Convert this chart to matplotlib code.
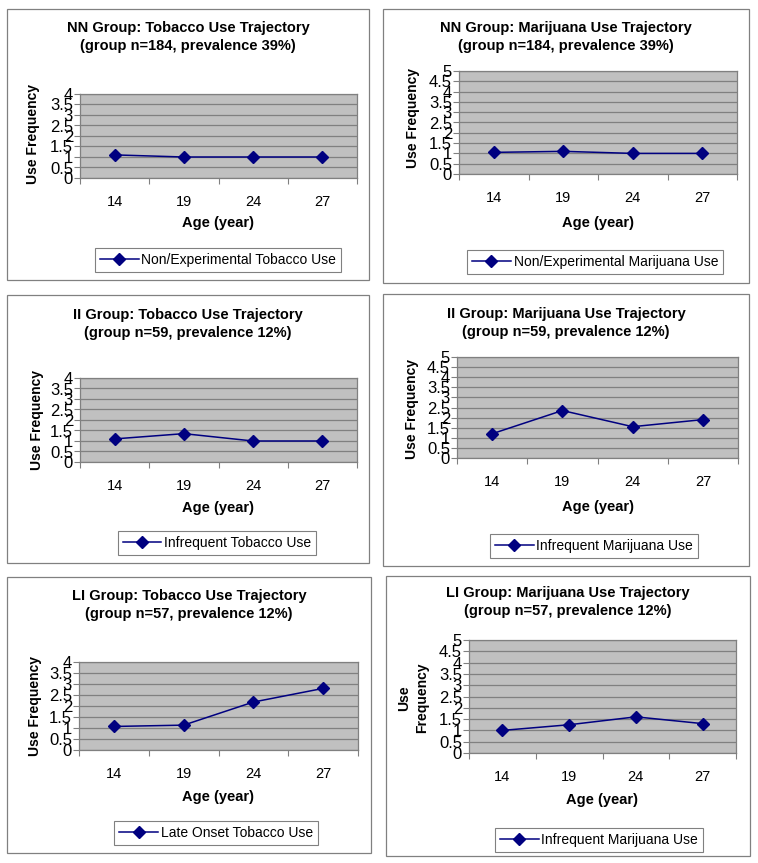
import matplotlib
matplotlib.use('Agg')
import matplotlib.pyplot as plt
from matplotlib.patches import Rectangle

plt.rcParams['font.family'] = ['Liberation Sans', 'DejaVu Sans']

ages = ['14', '19', '24', '27']

nn_tobacco = [1.1, 1.0, 1.0, 1.0]
nn_marijuana = [1.05, 1.1, 1.0, 1.0]
ii_tobacco = [1.1, 1.35, 1.0, 1.0]
ii_marijuana = [1.2, 2.35, 1.55, 1.9]
li_tobacco = [1.07, 1.13, 2.18, 2.8]
li_marijuana = [1.0, 1.25, 1.6, 1.3]

titles = ['NN Group: Tobacco Use Trajectory\n(group n=184, prevalence 39%)',
          'NN Group: Marijuana Use Trajectory\n(group n=184, prevalence 39%)',
          'II Group: Tobacco Use Trajectory\n(group n=59, prevalence 12%)',
          'II Group: Marijuana Use Trajectory\n(group n=59, prevalence 12%)',
          'LI Group: Tobacco Use Trajectory\n(group n=57, prevalence 12%)',
          'LI Group: Marijuana Use Trajectory\n(group n=57, prevalence 12%)']
legends = ['Non/Experimental Tobacco Use', 'Non/Experimental Marijuana Use',
           'Infrequent Tobacco Use', 'Infrequent Marijuana Use',
           'Late Onset Tobacco Use', 'Infrequent Marijuana Use']
series = [nn_tobacco, nn_marijuana, ii_tobacco, ii_marijuana, li_tobacco, li_marijuana]
ymaxes = [4, 5, 4, 5, 4, 5]
ylabels = ['Use Frequency'] * 5 + ['Use\nFrequency']

W, H = 758, 863
fig = plt.figure(figsize=(W / 100, H / 100), dpi=100)

def fx(x):
    return x / W

def fy(y):
    return 1 - y / H

# pixel layout: box, plot area, title y, xlabel y, ylabel x/y, legend center
layout = [
    dict(box=(7, 9, 369, 280), ax=(80, 94, 357, 178), title=37, xl=223, yl=(33, 134), leg=(218, 260)),
    dict(box=(383, 9, 749, 283), ax=(459, 71, 737, 174), title=37, xl=223, yl=(413, 118), leg=(595, 262)),
    dict(box=(7, 295, 369, 563), ax=(80, 378, 357, 462), title=324, xl=508, yl=(37, 420), leg=(217, 543)),
    dict(box=(383, 294, 749, 566), ax=(457, 357, 738, 458), title=323, xl=507, yl=(412, 409), leg=(594, 546)),
    dict(box=(7, 577, 371, 853), ax=(79, 662, 358, 750), title=605, xl=797, yl=(35, 706), leg=(216, 833)),
    dict(box=(386, 576, 750, 856), ax=(469, 640, 736, 753), title=602, xl=800, yl=(413, 698), leg=(599, 840)),
]

for i, L in enumerate(layout):
    bx0, by0, bx1, by1 = L['box']
    fig.patches.append(Rectangle((fx(bx0), fy(by1)), fx(bx1 - bx0), (by1 - by0) / H,
                                 transform=fig.transFigure, fill=False,
                                 edgecolor='#808080', linewidth=0.9))
    x0, y0, x1, y1 = L['ax']
    ax = fig.add_axes([fx(x0), fy(y1), fx(x1 - x0), (y1 - y0) / H])
    ax.set_facecolor('#c0c0c0')
    xs = list(range(len(ages)))
    ax.plot(xs, series[i], color='#000080', marker='D', markersize=6, linewidth=1.1,
            label=legends[i])
    ax.set_xlim(-0.5, len(ages) - 0.5)
    ax.set_ylim(0, ymaxes[i])
    yt = [k * 0.5 for k in range(int(ymaxes[i] * 2) + 1)]
    ax.set_yticks(yt)
    ax.set_yticklabels(['%g' % v for v in yt], fontsize=12)
    ax.grid(axis='y', color='#808080', linewidth=0.9)
    ax.set_axisbelow(True)
    ax.set_xticks([k - 0.5 for k in range(len(ages) + 1)])
    ax.set_xticklabels([])
    ax.set_xticks(xs, minor=True)
    ax.set_xticklabels(ages, minor=True, fontsize=10.5)
    ax.tick_params(axis='x', which='minor', length=0, pad=12)
    ax.tick_params(axis='x', which='major', length=4, width=0.8, color='#808080')
    ax.tick_params(axis='y', length=4, width=0.8, pad=1, color='#808080')
    for s in ax.spines.values():
        s.set_color('#808080')
        s.set_linewidth(0.9)
    cx = (bx0 + bx1) / 2
    fig.text(fx(cx), fy(L['title']), titles[i], ha='center', va='center',
             fontsize=10.5, fontweight='bold', linespacing=1.35)
    fig.text(fx((x0 + x1) / 2), fy(L['xl']), 'Age (year)', ha='center', va='center',
             fontsize=10.5, fontweight='bold')
    fig.text(fx(L['yl'][0]), fy(L['yl'][1]), ylabels[i], ha='center', va='center',
             rotation=90, fontsize=10, fontweight='bold', linespacing=1.3)
    leg = ax.legend(loc='center', bbox_to_anchor=(fx(L['leg'][0]), fy(L['leg'][1])),
                    bbox_transform=fig.transFigure, fontsize=10, fancybox=False,
                    framealpha=1, edgecolor='#808080', handlelength=2.8,
                    handletextpad=0.2, borderpad=0.35, borderaxespad=0)
    leg.get_frame().set_linewidth(0.8)

fig.savefig('out.png', dpi=100)
